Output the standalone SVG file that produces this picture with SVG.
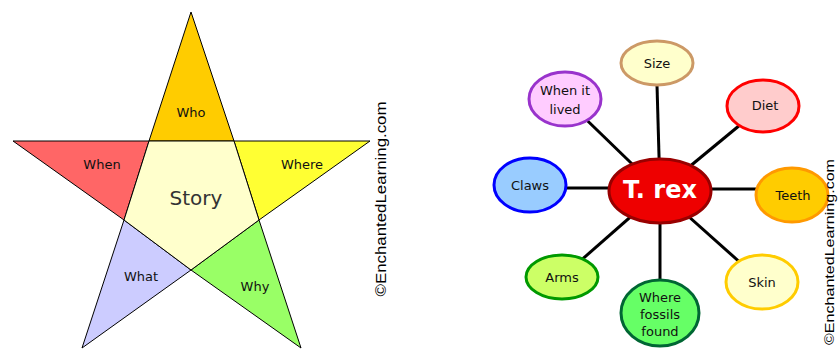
<svg xmlns="http://www.w3.org/2000/svg" width="839" height="349" viewBox="0 0 839 349">
<style>
.pt{stroke:#000;stroke-width:1;stroke-linejoin:miter}
.lbl{font-family:"DejaVu Sans",sans-serif;font-size:13px;fill:#111;text-anchor:middle;dominant-baseline:central}
.node ellipse{stroke-width:3}
.conn line{stroke:#000;stroke-width:3}
.copy{font-family:"Liberation Sans",Arial,sans-serif;font-size:14px;fill:#000;text-anchor:middle}
</style>
<rect width="839" height="349" fill="#fff"/>
<g id="star">
<g id="who"><polygon class="pt" fill="#ffcc00" points="191,12 234,141 149,141"/><text class="lbl" x="191" y="112">Who</text></g>
<g id="where"><polygon class="pt" fill="#ffff33" points="234,141 370,141 259,220"/><text class="lbl" x="302" y="164">Where</text></g>
<g id="why"><polygon class="pt" fill="#99ff66" points="259,220 301,348 191,270"/><text class="lbl" x="255" y="286">Why</text></g>
<g id="what"><polygon class="pt" fill="#ccccff" points="191,270 82,348 124,220"/><text class="lbl" x="141" y="276">What</text></g>
<g id="when"><polygon class="pt" fill="#ff6666" points="124,220 13,141 149,141"/><text class="lbl" x="102" y="164">When</text></g>
<g id="story"><polygon class="pt" fill="#ffffcc" points="149,141 234,141 259,220 191,270 124,220"/><text class="lbl" x="196" y="198" style="font-size:20px;fill:#333">Story</text></g>
</g>
<text class="copy" transform="translate(386,199) rotate(-90)" textLength="195" lengthAdjust="spacingAndGlyphs">©EnchantedLearning.com</text>
<g class="conn" id="connectors">
<line x1="660" y1="191" x2="657" y2="85"/>
<line x1="660" y1="191" x2="763" y2="106"/>
<line x1="660" y1="189" x2="792" y2="189"/>
<line x1="660" y1="191" x2="762" y2="282"/>
<line x1="660" y1="191" x2="660" y2="312"/>
<line x1="660" y1="191" x2="562" y2="277"/>
<line x1="660" y1="188" x2="530" y2="188"/>
<line x1="660" y1="191" x2="565" y2="99"/>
</g>
<g class="node" id="size"><ellipse cx="657" cy="63" rx="36" ry="22" fill="#ffffcc" stroke="#cc9966"/><text class="lbl" x="657" y="63">Size</text></g>
<g class="node" id="diet"><ellipse cx="763" cy="106" rx="36" ry="26" fill="#ffcccc" stroke="#ff0000"/><text class="lbl" x="765" y="105">Diet</text></g>
<g class="node" id="teeth"><ellipse cx="792" cy="195" rx="36" ry="27" fill="#ffcc00" stroke="#ff9900"/><text class="lbl" x="793" y="195">Teeth</text></g>
<g class="node" id="skin"><ellipse cx="762" cy="282" rx="36" ry="27" fill="#ffffcc" stroke="#ffcc00"/><text class="lbl" x="762" y="282">Skin</text></g>
<g class="node" id="fossils"><ellipse cx="660" cy="313" rx="39" ry="33" fill="#66ff66" stroke="#006633"/><text class="lbl" x="660" y="297">Where</text><text class="lbl" x="660" y="314">fossils</text><text class="lbl" x="660" y="331">found</text></g>
<g class="node" id="arms"><ellipse cx="562" cy="277" rx="36" ry="22" fill="#ccff66" stroke="#009900"/><text class="lbl" x="562" y="277">Arms</text></g>
<g class="node" id="claws"><ellipse cx="530" cy="185" rx="36" ry="27" fill="#99ccff" stroke="#0000ff"/><text class="lbl" x="530" y="185">Claws</text></g>
<g class="node" id="whenlived"><ellipse cx="565" cy="99" rx="36" ry="27" fill="#ffccff" stroke="#9933cc"/><text class="lbl" x="565" y="90">When it</text><text class="lbl" x="565" y="109">lived</text></g>
<g class="node" id="trex"><ellipse cx="660" cy="191" rx="51" ry="32" fill="#ee0000" stroke="#990000"/><text class="lbl" x="660" y="190" style="font-size:24px;font-weight:bold;fill:#fff">T. rex</text></g>
<text class="copy" transform="translate(834,252) rotate(-90)" textLength="186" lengthAdjust="spacingAndGlyphs" style="font-size:13px">©EnchantedLearning.com</text>
</svg>
